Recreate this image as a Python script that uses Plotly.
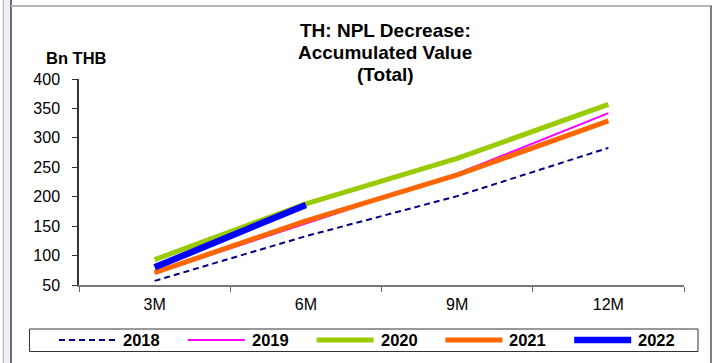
import plotly.graph_objects as go

# Accumulated NPL decrease by quarter, Bn THB
periods = ["3M", "6M", "9M", "12M"]
years = ["2018", "2019", "2020", "2021", "2022"]
v2018 = [57, 133, 201, 283]
v2019 = [70, 155, 239, 342]
v2020 = [93, 188, 265, 357]
v2021 = [71, 159, 237, 329]
v2022 = [80, 186]
y_ticks = [50, 100, 150, 200, 250, 300, 350, 400]

series_values = [v2018, v2019, v2020, v2021, v2022]
colors = ["#000080", "#FF00FF", "#99CC00", "#FF6600", "#0000FF"]
widths = [2, 2, 5, 5, 6.5]
dashes = ["6px,4px", "solid", "solid", "solid", "solid"]

W, H = 712, 363
L, R, T, B = 79, 28, 79, 78
PW, PH = W - L - R, H - T - B
FONT = "Liberation Sans, Arial, sans-serif"


def px(x):
    return (x - L) / PW


def py(y):
    return (H - B - y) / PH


fig = go.Figure()
for name, vals, col, w, d in zip(years, series_values, colors, widths, dashes):
    fig.add_trace(go.Scatter(
        x=periods[:len(vals)], y=vals, name=name, mode="lines",
        line=dict(color=col, width=w, dash=d),
        showlegend=False,
    ))

shapes = []
annotations = []

# Outer chart frame
shapes += [
    dict(type="line", xref="paper", yref="paper", x0=px(3.5), x1=px(3.5), y0=py(0), y1=py(H), line=dict(color="#b8b8b8", width=1.5)),
    dict(type="rect", xref="paper", yref="paper", x0=px(4.5), x1=px(10.3), y0=py(0), y1=py(H), line=dict(width=0), fillcolor="#eeeef7"),
    dict(type="line", xref="paper", yref="paper", x0=px(11), x1=px(11), y0=py(0), y1=py(H), line=dict(color="#3c3c3c", width=1.5)),
    dict(type="line", xref="paper", yref="paper", x0=px(11), x1=px(712), y0=py(6), y1=py(6), line=dict(color="#b4b4b4", width=2)),
    dict(type="line", xref="paper", yref="paper", x0=px(711), x1=px(711), y0=py(6), y1=py(H), line=dict(color="#555555", width=1.5)),
]

# Legend box and entries
shapes.append(dict(type="rect", xref="paper", yref="paper", x0=px(29.5), x1=px(698), y0=py(329), y1=py(351.5),
                   line=dict(color="#333333", width=1), fillcolor="rgba(0,0,0,0)"))
leg_y = 340
for i, (name, col, w, d) in enumerate(zip(years, colors, widths, dashes)):
    x0 = 59 + i * 128.8
    shapes.append(dict(type="line", xref="paper", yref="paper", x0=px(x0), x1=px(x0 + 57), y0=py(leg_y), y1=py(leg_y),
                       line=dict(color=col, width=w, dash=d)))
    annotations.append(dict(xref="paper", yref="paper", x=px(x0 + 62), y=py(leg_y), text="<b>%s</b>" % name,
                            showarrow=False, xanchor="left", yanchor="middle",
                            font=dict(family=FONT, size=16.5, color="#000000")))

# Title lines
for text, yc in [("TH: NPL Decrease:", 30.5), ("Accumulated Value", 52.5), ("(Total)", 74)]:
    annotations.append(dict(xref="paper", yref="paper", x=px(385), y=py(yc), text="<b>%s</b>" % text,
                            showarrow=False, xanchor="center", yanchor="middle",
                            font=dict(family=FONT, size=19, color="#000000")))

# Unit label
annotations.append(dict(xref="paper", yref="paper", x=px(44), y=py(58.5), text="<b>Bn THB</b>",
                        showarrow=False, xanchor="left", yanchor="middle",
                        font=dict(family=FONT, size=16.5, color="#000000")))

fig.update_layout(
    width=W, height=H,
    margin=dict(l=L, r=R, t=T, b=B, pad=0),
    paper_bgcolor="#ffffff", plot_bgcolor="#ffffff",
    showlegend=False,
    shapes=shapes, annotations=annotations,
    font=dict(family=FONT, size=16, color="#000000"),
    xaxis=dict(
        type="category", categoryorder="array", categoryarray=periods,
        range=[-0.5, len(periods) - 0.5],
        tickson="boundaries", ticks="outside", ticklen=5, tickcolor="#666666",
        showline=True, linecolor="#777777", linewidth=1.5,
        showgrid=False, zeroline=False,
        tickfont=dict(family=FONT, size=16, color="#000000"),
        ticklabelstandoff=4,
    ),
    yaxis=dict(
        range=[50, 400], tickvals=y_ticks,
        ticks="outside", ticklen=5, tickcolor="#333333",
        showline=True, linecolor="#333333", linewidth=1.5,
        showgrid=False, zeroline=False,
        tickfont=dict(family=FONT, size=16, color="#000000"),
        ticklabelstandoff=9,
    ),
)

fig.write_html("out.html")
